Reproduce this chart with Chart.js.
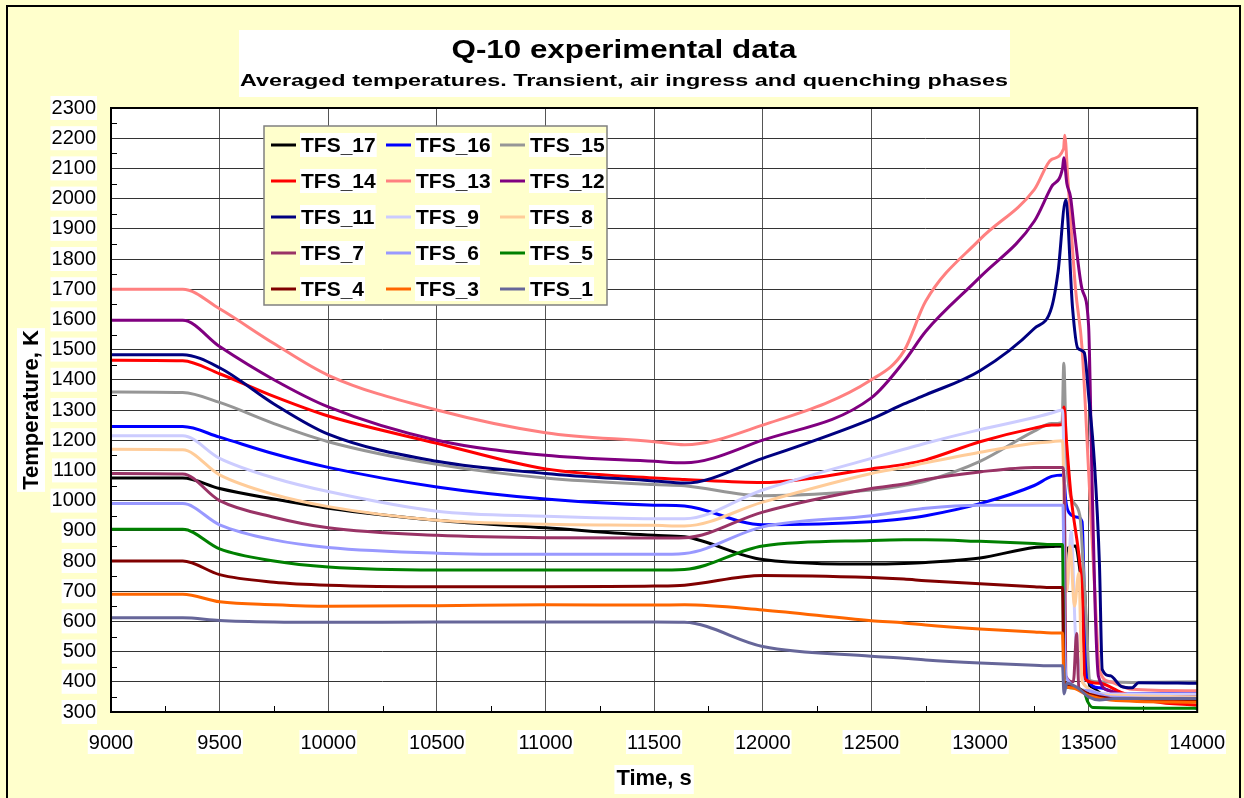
<!DOCTYPE html>
<html>
<head>
<meta charset="utf-8">
<title>Q-10 experimental data</title>
<script src="https://cdn.jsdelivr.net/npm/chart.js@4.4.1/dist/chart.umd.min.js"></script>
<style>
  html, body { margin: 0; padding: 0; background: #ffffcc; }
  #wrap { width: 1244px; height: 798px; }
</style>
</head>
<body>
<div id="wrap"><canvas id="q10Chart" width="1244" height="798"></canvas></div>
<script>
// time grid shared by all sensors before quench (s)
const timeMain = [9000, 9330, 9500, 9750, 10000, 10500, 11000, 11500, 11640, 12000, 12500, 12650, 12750, 13000, 13250, 13330];

// averaged temperatures on timeMain (K)
const tfs17 = [1075, 1075, 1040, 1005, 975, 935, 910, 885, 880, 805, 790, 792, 795, 810, 845, 848];
const tfs16 = [1245, 1245, 1210, 1155, 1110, 1045, 1005, 985, 982, 920, 930, 940, 950, 990, 1050, 1080];
const tfs15 = [1360, 1358, 1325, 1255, 1195, 1120, 1075, 1053, 1049, 1016, 1035, 1050, 1065, 1130, 1230, 1255];
const tfs14 = [1465, 1463, 1420, 1345, 1280, 1190, 1105, 1075, 1070, 1060, 1105, 1120, 1135, 1195, 1240, 1250];
const tfs13 = [1700, 1700, 1635, 1520, 1415, 1300, 1225, 1195, 1185, 1250, 1400, 1495, 1660, 1865, 2030, 2130];
const tfs12 = [1597, 1597, 1510, 1400, 1310, 1200, 1150, 1130, 1125, 1200, 1340, 1460, 1560, 1740, 1925, 2040];
const tfs11 = [1483, 1483, 1440, 1320, 1220, 1130, 1090, 1065, 1058, 1140, 1270, 1320, 1350, 1430, 1570, 1640];
const tfs9  = [1215, 1215, 1140, 1075, 1030, 965, 948, 940, 940, 1035, 1140, 1170, 1190, 1235, 1275, 1290];
const tfs8  = [1170, 1168, 1085, 1020, 980, 935, 922, 918, 916, 995, 1090, 1110, 1125, 1160, 1190, 1195];
const tfs7  = [1090, 1088, 1000, 945, 910, 885, 877, 876, 877, 962, 1040, 1055, 1070, 1095, 1110, 1110];
const tfs6  = [990, 990, 920, 870, 845, 826, 822, 822, 825, 913, 950, 965, 975, 985, 985, 985];
const tfs5  = [905, 905, 840, 800, 780, 770, 770, 770, 772, 850, 868, 870, 870, 865, 858, 855];
const tfs4  = [800, 800, 755, 730, 720, 715, 715, 717, 720, 752, 745, 740, 735, 725, 715, 712];
const tfs3  = [690, 690, 665, 655, 650, 652, 655, 654, 655, 638, 602, 595, 588, 575, 565, 562];
const tfs1  = [612, 612, 603, 598, 597, 598, 598, 598, 597, 517, 485, 478, 472, 462, 455, 453];

// quenching phase, [time s, temperature K]
const quench17 = [[13385, 850], [13392, 760], [13400, 840], [13440, 850], [13470, 730], [13482, 700], [13495, 420], [13520, 380], [13560, 360], [13620, 345], [13700, 340], [13800, 345], [14000, 348]];
const quench16 = [[13385, 1085], [13395, 1000], [13410, 960], [13450, 945], [13470, 930], [13480, 700], [13490, 420], [13550, 380], [13650, 360], [14000, 362]];
const quench15 = [[13378, 1258], [13386, 1455], [13398, 1150], [13420, 1010], [13460, 950], [13475, 790], [13490, 600], [13505, 405], [13550, 400], [13700, 398], [14000, 400]];
const quench14 = [[13380, 1252], [13387, 1310], [13398, 1200], [13420, 1010], [13460, 790], [13472, 680], [13482, 410], [13550, 395], [13650, 365], [13800, 335], [14000, 322]];
const quench13 = [[13385, 2165], [13390, 2210], [13405, 2060], [13440, 1700], [13470, 1505], [13500, 1100], [13530, 680], [13550, 440], [13600, 400], [13700, 375], [14000, 370]];
const quench12 = [[13380, 2100], [13386, 2135], [13400, 2050], [13417, 2005], [13435, 1890], [13470, 1700], [13500, 1580], [13515, 1100], [13530, 650], [13545, 420], [13600, 370], [13700, 350], [14000, 355]];
const quench11 = [[13360, 1760], [13395, 1995], [13426, 1640], [13450, 1505], [13480, 1490], [13500, 1350], [13527, 1125], [13550, 790], [13563, 440], [13600, 420], [13650, 385], [13700, 380], [13730, 397], [14000, 395]];
const quench9  = [[13380, 1300], [13390, 1000], [13400, 700], [13420, 900], [13440, 550], [13460, 450], [13480, 390], [13600, 360], [14000, 360]];
const quench8  = [[13380, 1198], [13390, 900], [13400, 700], [13415, 850], [13435, 650], [13455, 760], [13470, 400], [13600, 355], [14000, 350]];
const quench7  = [[13380, 1110], [13388, 1050], [13395, 420], [13430, 400], [13445, 560], [13455, 380], [13600, 345], [14000, 340]];
const quench6  = [[13382, 985], [13390, 500], [13400, 410], [13500, 370], [13600, 350], [14000, 345]];
const quench5  = [[13380, 855], [13387, 390], [13420, 380], [13480, 365], [13495, 335], [13520, 315], [14000, 312]];
const quench4  = [[13380, 712], [13387, 400], [13420, 385], [13500, 360], [13600, 345], [14000, 335]];
const quench3  = [[13380, 562], [13387, 390], [13420, 380], [13500, 355], [13600, 340], [14000, 332]];
const quench1  = [[13380, 453], [13387, 360], [13400, 395], [13450, 380], [13500, 350], [13550, 340], [13620, 345], [14000, 345]];

// legend order (3 columns, row by row)
const seriesNames = ['TFS_17', 'TFS_16', 'TFS_15', 'TFS_14', 'TFS_13', 'TFS_12', 'TFS_11', 'TFS_9', 'TFS_8', 'TFS_7', 'TFS_6', 'TFS_5', 'TFS_4', 'TFS_3', 'TFS_1'];
const seriesMain = [tfs17, tfs16, tfs15, tfs14, tfs13, tfs12, tfs11, tfs9, tfs8, tfs7, tfs6, tfs5, tfs4, tfs3, tfs1];
const seriesQuench = [quench17, quench16, quench15, quench14, quench13, quench12, quench11, quench9, quench8, quench7, quench6, quench5, quench4, quench3, quench1];
const seriesColors = ['#000000', '#0000ff', '#969696', '#ff0000', '#ff8080', '#800080', '#000080', '#ccccff', '#ffcc99', '#993366', '#9999ff', '#008000', '#800000', '#ff6600', '#666699'];

const FONT = 'Liberation Sans, Arial, sans-serif';

function buildPoints(vals, quench) {
    const pts = timeMain.map((t, i) => ({ x: t, y: vals[i] }));
    quench.forEach(p => pts.push({ x: p[0], y: p[1] }));
    return pts;
}

// Excel draws later series on top; Chart.js draws index 0 last, so reverse
const datasets = seriesNames.map((name, i) => ({
    label: name,
    data: buildPoints(seriesMain[i], seriesQuench[i]),
    borderColor: seriesColors[i],
    backgroundColor: seriesColors[i],
    borderWidth: 3,
    pointRadius: 0,
    cubicInterpolationMode: 'monotone',
    fill: false
})).reverse();

function whiteBox(ctx, x, y, w, h) {
    ctx.fillStyle = '#ffffff';
    ctx.fillRect(x, y, w, h);
}

function stretchedText(ctx, text, cx, baseline, font, targetWidth) {
    ctx.save();
    ctx.font = font;
    const w = ctx.measureText(text).width;
    ctx.translate(cx, baseline);
    ctx.scale(targetWidth / w, 1);
    ctx.textAlign = 'center';
    ctx.textBaseline = 'alphabetic';
    ctx.fillStyle = '#000';
    ctx.fillText(text, 0, 0);
    ctx.restore();
}

const backdropPlugin = {
    id: 'backdrop',
    beforeDraw(chart) {
        const ctx = chart.ctx;
        const area = chart.chartArea;
        ctx.save();
        // page background and frame
        ctx.fillStyle = '#ffffcc';
        ctx.fillRect(0, 0, chart.width, chart.height);
        ctx.strokeStyle = '#000';
        ctx.lineWidth = 2;
        ctx.beginPath();
        ctx.moveTo(7, 800);
        ctx.lineTo(7, 6);
        ctx.lineTo(1240, 6);
        ctx.lineTo(1240, 800);
        ctx.stroke();

        // title box
        whiteBox(ctx, 239, 30, 771, 67);
        stretchedText(ctx, 'Q-10 experimental data', 624, 58, 'bold 25px ' + FONT, 345);
        stretchedText(ctx, 'Averaged temperatures. Transient, air ingress and quenching phases', 624, 86, 'bold 17px ' + FONT, 768);

        // plot area
        ctx.fillStyle = '#ffffff';
        ctx.fillRect(area.left, area.top, area.right - area.left, area.bottom - area.top);

        // white boxes behind tick labels
        ctx.font = '20px ' + FONT;
        const ys = chart.scales.y;
        ys.ticks.forEach(t => {
            const w = ctx.measureText(String(t.value)).width;
            const py = ys.getPixelForValue(t.value);
            whiteBox(ctx, 96 - w - 1, py - 12, w + 2, 24);
        });
        const xs = chart.scales.x;
        xs.ticks.forEach(t => {
            const w = ctx.measureText(String(t.value)).width;
            const px = xs.getPixelForValue(t.value);
            whiteBox(ctx, px - w / 2 - 1, 730, w + 2, 24);
        });

        // axis titles
        ctx.font = 'bold 22px ' + FONT;
        ctx.fillStyle = '#000';
        const xt = 'Time, s';
        const xw = ctx.measureText(xt).width;
        const xc = (area.left + area.right) / 2;
        whiteBox(ctx, xc - xw / 2 - 2, 765, xw + 4, 29);
        ctx.fillStyle = '#000';
        ctx.textAlign = 'center';
        ctx.textBaseline = 'middle';
        ctx.fillText(xt, xc, 779);

        const yt = 'Temperature, K';
        const yw = ctx.measureText(yt).width;
        const yc = (area.top + area.bottom) / 2;
        ctx.translate(31, yc);
        ctx.rotate(-Math.PI / 2);
        whiteBox(ctx, -yw / 2 - 2, -14, yw + 4, 28);
        ctx.fillStyle = '#000';
        ctx.fillText(yt, 0, 1);
        ctx.restore();
    },
    beforeDatasetsDraw(chart) {
        const ctx = chart.ctx;
        const area = chart.chartArea;
        const xs = chart.scales.x;
        const ys = chart.scales.y;
        ctx.save();
        ctx.strokeStyle = '#000';
        ctx.lineWidth = 1;
        ctx.beginPath();
        // minor ticks pointing into the plot
        for (let v = 350; v < 2300; v += 100) {
            const py = Math.round(ys.getPixelForValue(v)) + 0.5;
            ctx.moveTo(area.left, py);
            ctx.lineTo(area.left + 6, py);
        }
        for (let v = 9250; v < 14000; v += 500) {
            const px = Math.round(xs.getPixelForValue(v)) + 0.5;
            ctx.moveTo(px, area.bottom);
            ctx.lineTo(px, area.bottom - 6);
        }
        ctx.stroke();
        ctx.restore();
    },
    afterDatasetsDraw(chart) {
        const ctx = chart.ctx;
        const area = chart.chartArea;
        ctx.save();
        // plot frame
        ctx.strokeStyle = '#000';
        ctx.lineWidth = 2;
        ctx.strokeRect(area.left, area.top, area.right - area.left, area.bottom - area.top);

        // legend
        ctx.fillStyle = '#ffffcc';
        ctx.fillRect(264, 126, 343, 179);
        ctx.strokeStyle = '#808080';
        ctx.lineWidth = 1.5;
        ctx.strokeRect(264, 126, 343, 179);
        const colX = [271, 386, 500];
        const rowY = [145, 181, 217, 253, 289];
        ctx.font = 'bold 21px ' + FONT;
        ctx.textAlign = 'left';
        ctx.textBaseline = 'middle';
        seriesNames.forEach((name, i) => {
            const lx = colX[i % 3];
            const ly = rowY[Math.floor(i / 3)];
            ctx.strokeStyle = seriesColors[i];
            ctx.lineWidth = 3;
            ctx.beginPath();
            ctx.moveTo(lx, ly);
            ctx.lineTo(lx + 25, ly);
            ctx.stroke();
            const tx = lx + 30;
            const w = ctx.measureText(name).width;
            whiteBox(ctx, tx - 1, ly - 12, w + 2, 24);
            ctx.fillStyle = '#000';
            ctx.fillText(name, tx, ly + 1);
        });
        ctx.restore();
    }
};

const tickFont = { family: FONT, size: 20 };

new Chart(document.getElementById('q10Chart'), {
    type: 'line',
    data: { datasets: datasets },
    options: {
        responsive: false,
        animation: false,
        devicePixelRatio: 1,
        layout: { padding: { top: 108, right: 44, left: 0, bottom: 0 } },
        plugins: {
            legend: { display: false },
            title: { display: false },
            tooltip: { enabled: false }
        },
        scales: {
            x: {
                type: 'linear',
                min: 9000,
                max: 14000,
                ticks: {
                    stepSize: 500,
                    autoSkip: false,
                    maxRotation: 0,
                    color: '#000',
                    font: tickFont,
                    padding: 19,
                    callback: v => String(v)
                },
                grid: { color: '#555555', lineWidth: 1, drawTicks: false },
                border: { display: false },
                afterFit: s => { s.height = 86; }
            },
            y: {
                type: 'linear',
                min: 300,
                max: 2300,
                ticks: {
                    stepSize: 100,
                    autoSkip: false,
                    color: '#000',
                    font: tickFont,
                    padding: 15,
                    callback: v => String(v)
                },
                grid: { color: '#333333', lineWidth: 1, drawTicks: false },
                border: { display: false },
                afterFit: s => { s.width = 111; }
            }
        }
    },
    plugins: [backdropPlugin]
});
</script>
</body>
</html>
